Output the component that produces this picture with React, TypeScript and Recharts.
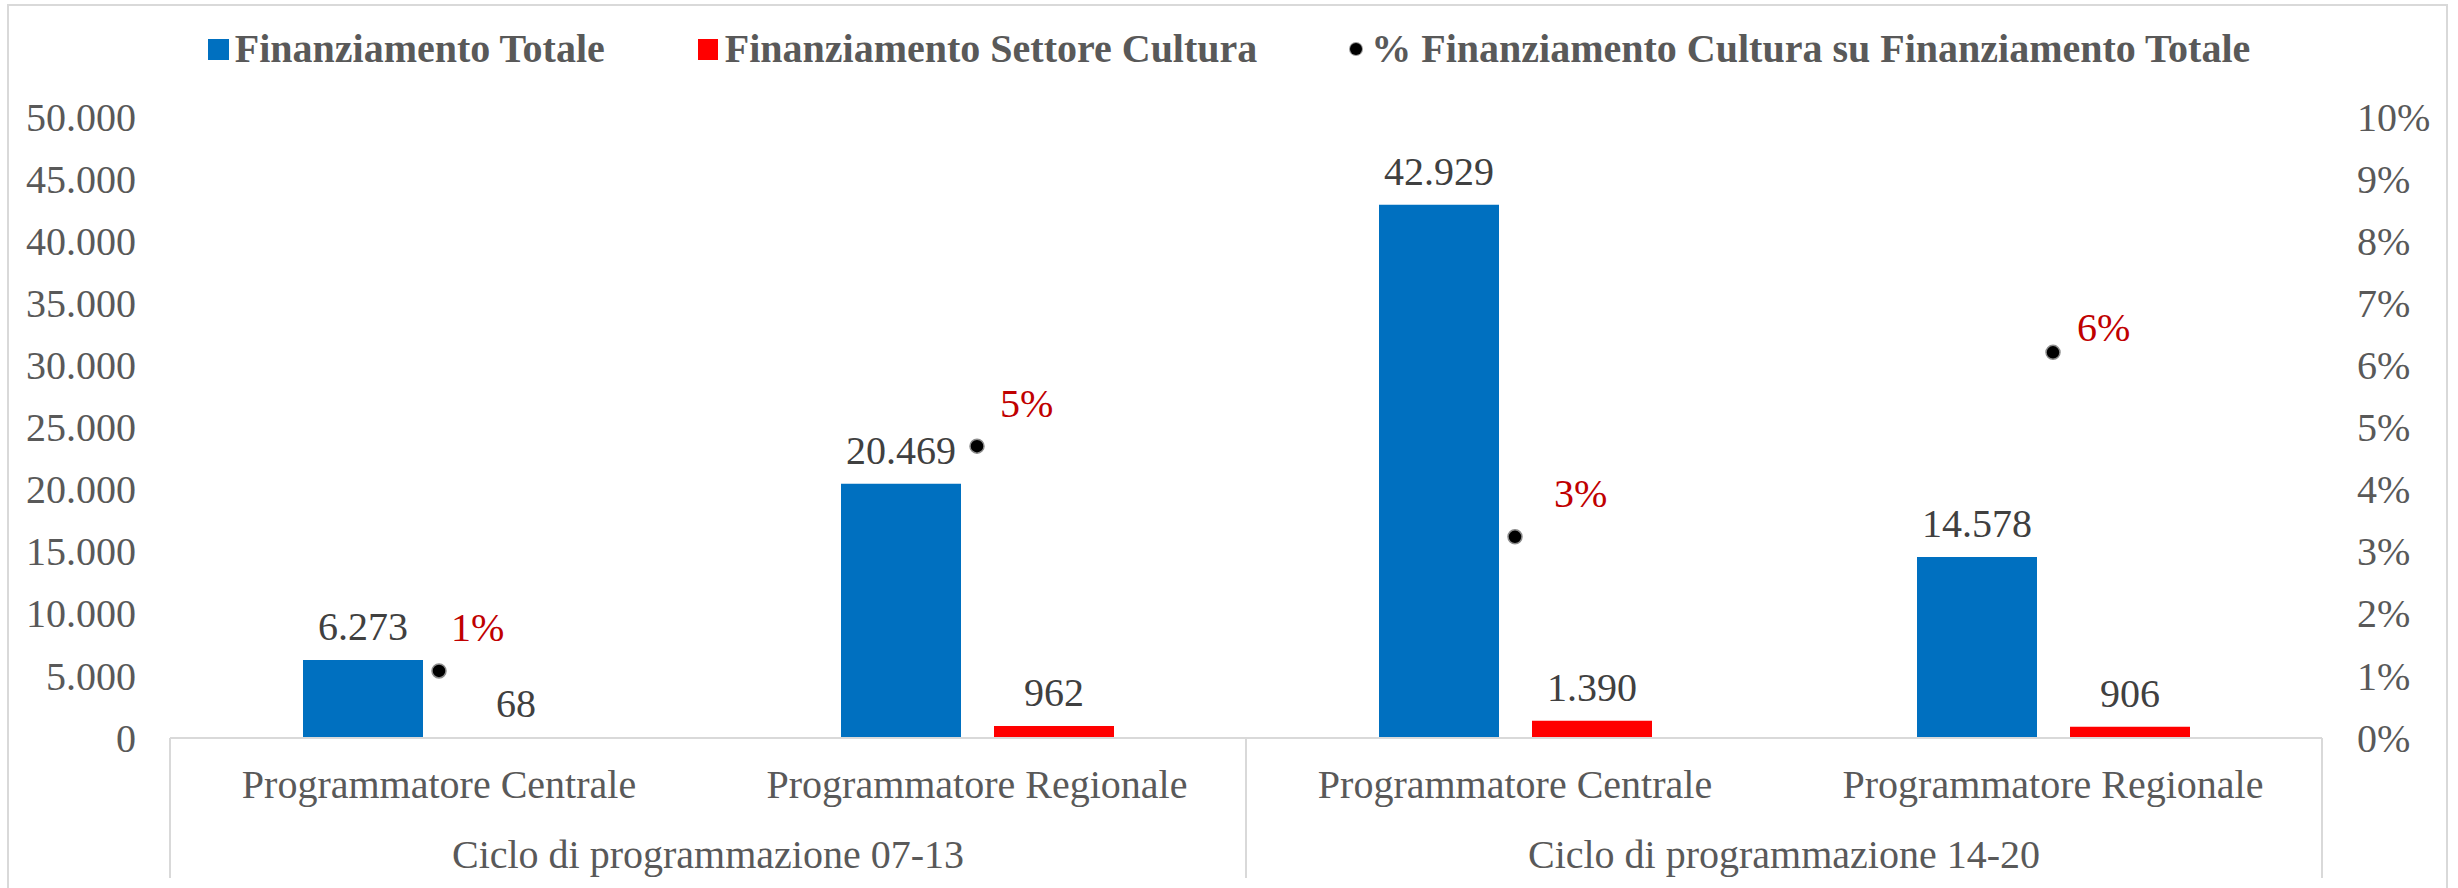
import React from 'react';
import { ComposedChart, Bar, Scatter, XAxis, YAxis, LabelList } from 'recharts';

// ---- data ----
const groups = [
  'Ciclo di programmazione 07-13',
  'Ciclo di programmazione 07-13',
  'Ciclo di programmazione 14-20',
  'Ciclo di programmazione 14-20',
];
const categories = [
  'Programmatore Centrale',
  'Programmatore Regionale',
  'Programmatore Centrale',
  'Programmatore Regionale',
];
const finanziamentoTotale = [6273, 20469, 42929, 14578];
const finanziamentoCultura = [68, 962, 1390, 906];
const percentualeCultura = [0.0108, 0.047, 0.0324, 0.0621];
const leftTicks = [0, 5000, 10000, 15000, 20000, 25000, 30000, 35000, 40000, 45000, 50000];
const rightTicks = [0, 0.01, 0.02, 0.03, 0.04, 0.05, 0.06, 0.07, 0.08, 0.09, 0.1];
const seriesNames = [
  'Finanziamento Totale',
  'Finanziamento Settore Cultura',
  '% Finanziamento Cultura su Finanziamento Totale',
];

// label placement (relative to the point), style only
const pctLabelShift = [
  [12, -30],
  [23, -29],
  [39, -30],
  [24, -11],
];

// ---- layout / style ----
const W = 2458;
const H = 888;
const FONT = '"Liberation Serif", "Times New Roman", serif';
const BLUE = '#0070C0';
const RED = '#FF0000';
const AXIS_TXT = '#595959';
const LABEL_TXT = '#404040';
const PCT_TXT = '#C00000';
const FRAME = '#D9D9D9';
const PLOT_LEFT = 170;
const PLOT_RIGHT = 2322;
const PLOT_W = PLOT_RIGHT - PLOT_LEFT;

const data = categories.map((c, i) => ({
  idx: i,
  cat: c,
  group: groups[i],
  totale: finanziamentoTotale[i],
  cultura: finanziamentoCultura[i],
  pct: percentualeCultura[i],
}));

const fmtThousands = (v: number) => String(Math.round(v)).replace(/\B(?=(\d{3})+(?!\d))/g, '.');
const fmtPct = (v: number) => `${Math.round(v * 100)}%`;

const LeftTick = (props: any) => {
  const { y, payload } = props;
  return (
    <text x={PLOT_LEFT - 34} y={y} dy="0.34em" textAnchor="end" fill={AXIS_TXT} fontSize={40} fontFamily={FONT}>
      {fmtThousands(payload.value)}
    </text>
  );
};

const RightTick = (props: any) => {
  const { y, payload } = props;
  return (
    <text x={PLOT_RIGHT + 35} y={y} dy="0.34em" textAnchor="start" fill={AXIS_TXT} fontSize={40} fontFamily={FONT}>
      {fmtPct(payload.value)}
    </text>
  );
};

const CategoryTick = (props: any) => {
  const { x, y, payload } = props;
  const i = Number(payload.value);
  const bw = PLOT_W / categories.length;
  const lines: number[] = [];
  if (i === 0 || groups[i] !== groups[i - 1]) lines.push(x - bw / 2);
  if (i === categories.length - 1) lines.push(x + bw / 2);
  return (
    <g>
      {lines.map((lx, k) => (
        <line key={k} x1={lx} x2={lx} y1={y} y2={y + 140} stroke={FRAME} strokeWidth={2} />
      ))}
      <text x={x} y={y + 60} textAnchor="middle" fill={AXIS_TXT} fontSize={40} fontFamily={FONT}>
        {categories[i]}
      </text>
    </g>
  );
};

const GroupTick = (props: any) => {
  const { x, y, payload } = props;
  return (
    <text x={x} y={y + 60} textAnchor="middle" fill={AXIS_TXT} fontSize={40} fontFamily={FONT}>
      {payload.value}
    </text>
  );
};

const barLabel = (props: any) => {
  const { x, y, width, value } = props;
  return (
    <text
      x={Number(x) + Number(width) / 2}
      y={Number(y) - 20}
      textAnchor="middle"
      fill={LABEL_TXT}
      fontSize={40}
      fontFamily={FONT}
    >
      {fmtThousands(Number(value))}
    </text>
  );
};

const PctShape = (props: any) => {
  const { cx, cy, payload } = props;
  const i = payload.idx;
  const [dx, dy] = pctLabelShift[i];
  return (
    <g>
      <circle cx={cx} cy={cy} r={7} fill="#000" stroke="#8c8c8c" strokeWidth={1.5} />
      <text x={cx + dx} y={cy + dy} fill={PCT_TXT} fontSize={40} fontFamily={FONT}>
        {fmtPct(payload.pct)}
      </text>
    </g>
  );
};

const LegendBox = () => {
  const item = (marker: React.ReactNode, label: string, gap: number) => (
    <div style={{ display: 'flex', alignItems: 'center' }}>
      {marker}
      <span style={{ marginLeft: gap }}>{label}</span>
    </div>
  );
  return (
    <div
      style={{
        position: 'absolute',
        left: 0,
        top: 26,
        width: W,
        height: 46,
        display: 'flex',
        justifyContent: 'center',
        alignItems: 'center',
        gap: 93,
        fontFamily: FONT,
        fontWeight: 'bold',
        fontSize: 40,
        lineHeight: '46px',
        color: AXIS_TXT,
        whiteSpace: 'nowrap',
      }}
    >
      {item(<div style={{ width: 21, height: 21, background: BLUE }} />, seriesNames[0], 6)}
      {item(<div style={{ width: 20, height: 21, background: RED }} />, seriesNames[1], 7)}
      {item(
        <div style={{ width: 12, height: 12, borderRadius: '50%', background: '#000', boxShadow: '0 0 0 1px #999' }} />,
        seriesNames[2],
        9
      )}
    </div>
  );
};

export default function App() {
  return (
    <div style={{ position: 'fixed', left: 0, top: 0, width: W, height: H, background: '#fff', overflow: 'hidden' }}>
      <div
        style={{
          position: 'absolute',
          left: 7,
          top: 4,
          width: 2441,
          height: 920,
          border: `2px solid ${FRAME}`,
          boxSizing: 'border-box',
        }}
      />
      <div style={{ position: 'absolute', left: 0, top: 0 }}>
        <ComposedChart
          width={W}
          height={H}
          data={data}
          margin={{ top: 117, right: 8, bottom: 0, left: 8 }}
          barSize={120}
          barGap={33}
        >
          <XAxis
            dataKey="idx"
            type="category"
            height={70}
            axisLine={{ stroke: FRAME, strokeWidth: 2 }}
            tickLine={false}
            tickSize={0}
            tickMargin={0}
            tick={<CategoryTick />}
            interval={0}
          />
          <XAxis
            xAxisId="grp"
            dataKey="group"
            type="category"
            allowDuplicatedCategory={false}
            height={80}
            axisLine={false}
            tickLine={false}
            tickSize={0}
            tickMargin={0}
            tick={<GroupTick />}
            interval={0}
          />
          <YAxis
            yAxisId="left"
            orientation="left"
            width={162}
            domain={[0, 50000]}
            ticks={leftTicks}
            axisLine={false}
            tickLine={false}
            tickSize={0}
            tickMargin={0}
            tick={<LeftTick />}
            interval={0}
          />
          <YAxis
            yAxisId="right"
            orientation="right"
            width={128}
            domain={[0, 0.1]}
            ticks={rightTicks}
            axisLine={false}
            tickLine={false}
            tickSize={0}
            tickMargin={0}
            tick={<RightTick />}
            interval={0}
          />
          <Bar yAxisId="left" dataKey="totale" name={seriesNames[0]} fill={BLUE} isAnimationActive={false}>
            <LabelList dataKey="totale" content={barLabel} />
          </Bar>
          <Bar yAxisId="left" dataKey="cultura" name={seriesNames[1]} fill={RED} isAnimationActive={false}>
            <LabelList dataKey="cultura" content={barLabel} />
          </Bar>
          <Scatter
            yAxisId="right"
            dataKey="pct"
            name={seriesNames[2]}
            fill="#000"
            shape={<PctShape />}
            isAnimationActive={false}
          />
        </ComposedChart>
      </div>
      <LegendBox />
    </div>
  );
}
